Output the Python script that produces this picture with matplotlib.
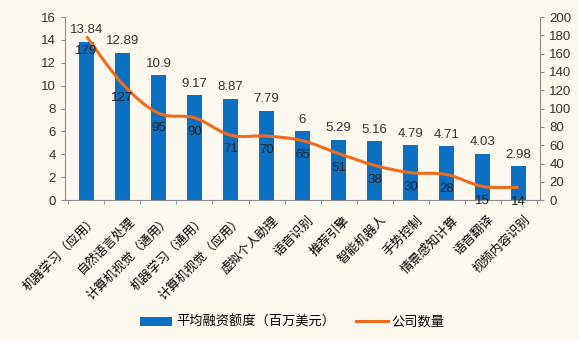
import numpy as np
import matplotlib.pyplot as plt
import matplotlib.transforms as mtransforms
from matplotlib.path import Path
from matplotlib.patches import PathPatch

plt.rcParams['font.family'] = ['Liberation Sans', 'Noto Sans CJK SC', 'DejaVu Sans']

categories = ['机器学习（应用）', '自然语言处理', '计算机视觉（通用）', '机器学习（通用）',
              '计算机视觉（应用）', '虚拟个人助理', '语音识别', '推荐引擎', '智能机器人',
              '手势控制', '情景感知计算', '语音翻译', '视频内容识别']
funding = [13.84, 12.89, 10.9, 9.17, 8.87, 7.79, 6, 5.29, 5.16, 4.79, 4.71, 4.03, 2.98]
companies = [179, 127, 95, 90, 71, 70, 65, 51, 38, 30, 28, 15, 14]

bg = '#fdf8ee'
blue = '#0b6fc2'
orange = '#f26b1d'
grey = '#8c8c8c'


def smooth_path(xs, ys, t=1 / 6):
    # catmull-rom style bezier through every point
    pts = np.column_stack([xs, ys]).astype(float)
    verts = [pts[0]]
    codes = [Path.MOVETO]
    n = len(pts)
    for i in range(n - 1):
        p0 = pts[max(i - 1, 0)]
        p1 = pts[i]
        p2 = pts[i + 1]
        p3 = pts[min(i + 2, n - 1)]
        c1 = p1 + (p2 - p0) * t
        c2 = p2 - (p3 - p1) * t
        verts += [c1, c2, p2]
        codes += [Path.CURVE4] * 3
    return Path(verts, codes)


fig = plt.figure(figsize=(5.79, 3.41), dpi=100, facecolor=bg)
ax = fig.add_axes([0.112, 0.413, 0.821, 0.537])
ax.set_facecolor(bg)
ax2 = ax.twinx()

x = np.arange(len(categories))
ax.bar(x, funding, width=0.42, color=blue, zorder=2, label='平均融资额度（百万美元）')
for xi, v in zip(x, funding):
    ax.annotate(f'{v:g}', (xi, v), xytext=(0, 4), textcoords='offset points',
                ha='center', va='bottom', fontsize=9.5, color='#333333')

ax2.add_patch(PathPatch(smooth_path(x, companies), fill=False, edgecolor=orange,
                        lw=2.2, zorder=3))
ax2.plot([], [], color=orange, lw=2.2, label='公司数量')
for xi, v in zip(x, companies):
    ax2.annotate(str(v), (xi, v), xytext=(0, -6), textcoords='offset points',
                 ha='center', va='top', fontsize=9.5, color='#222222')

ax.set_xlim(-0.6, len(categories) - 0.4)
ax.set_ylim(0, 16)
ax.set_yticks(range(0, 17, 2))
ax2.set_ylim(0, 200)
ax2.set_yticks(range(0, 201, 20))

ax.set_xticks(x)
ax.set_xticklabels(categories, rotation=45, ha='right', rotation_mode='anchor', fontsize=9)
ax.tick_params(axis='x', length=0, pad=10)
shift = mtransforms.ScaledTranslation(4 / 72, 0, fig.dpi_scale_trans)
for lbl in ax.get_xticklabels():
    lbl.set_transform(lbl.get_transform() + shift)
ax.set_xticks(np.arange(-0.5, len(categories), 1), minor=True)
ax.tick_params(axis='x', which='minor', length=3, color=grey)
ax.tick_params(axis='y', labelsize=9.5, color=grey, labelcolor='#333333', length=3)
ax2.tick_params(axis='y', labelsize=9.5, color=grey, labelcolor='#333333', length=3)

for a in (ax, ax2):
    for s in a.spines.values():
        s.set_visible(False)
ax.spines['left'].set_visible(True)
ax.spines['bottom'].set_visible(True)
ax2.spines['right'].set_visible(True)
for s in (ax.spines['left'], ax.spines['bottom'], ax2.spines['right']):
    s.set_color(grey)

h1, l1 = ax.get_legend_handles_labels()
h2, l2 = ax2.get_legend_handles_labels()
fig.legend(h1 + h2, l1 + l2, loc='center', bbox_to_anchor=(0.505, 0.055), ncol=2,
           frameon=False, fontsize=9.5, handlelength=2.4, columnspacing=1.6,
           handletextpad=0.3)

fig.savefig('out.png', dpi=100, facecolor=bg)
